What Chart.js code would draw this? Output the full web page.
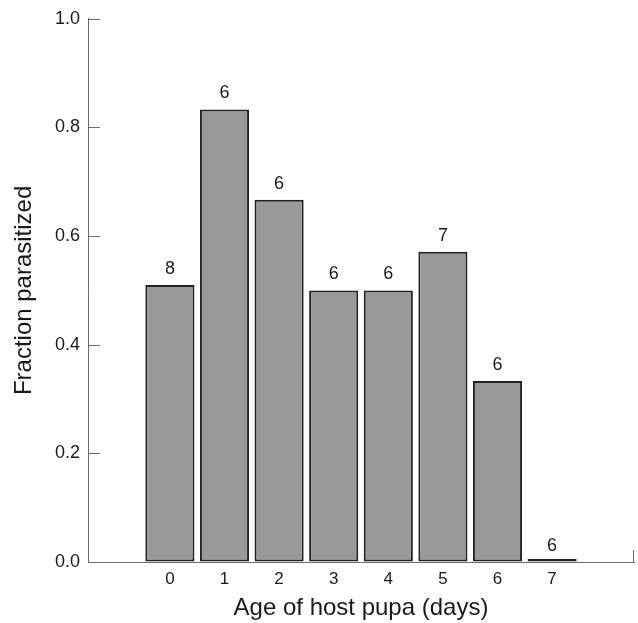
<!DOCTYPE html>
<html>
<head>
<meta charset="utf-8">
<script src="https://cdn.jsdelivr.net/npm/chart.js@4/dist/chart.umd.min.js"></script>
<style>
  html, body { margin: 0; padding: 0; background: #ffffff; }
  #wrap { width: 638px; height: 623px; position: relative; }
</style>
</head>
<body>
<div id="wrap"><canvas id="c" width="638" height="623"></canvas></div>
<script>
const ages = [0, 1, 2, 3, 4, 5, 6, 7];
const fractions = [0.51, 0.833, 0.667, 0.5, 0.5, 0.571, 0.333, 0.0];
const counts = [8, 6, 6, 6, 6, 7, 6, 6];
const yTickValues = [0, 0.2, 0.4, 0.6, 0.8, 1.0];

const AXIS_COLOR = '#6a6a6a';
const TEXT_COLOR = '#1a1a1a';
const FONT = '"Liberation Sans", Arial, Helvetica, sans-serif';

const decorations = {
  id: 'decorations',
  afterDatasetsDraw(chart) {
    const ctx = chart.ctx;
    const meta = chart.getDatasetMeta(0);
    const y = chart.scales.y;
    ctx.save();
    ctx.fillStyle = TEXT_COLOR;
    ctx.font = '18px ' + FONT;
    ctx.textAlign = 'center';
    ctx.textBaseline = 'middle';
    meta.data.forEach((bar, i) => {
      ctx.fillText(String(counts[i]), bar.x, y.getPixelForValue(fractions[i]) - 16);
    });
    ctx.restore();
  },
  afterDraw(chart) {
    const ctx = chart.ctx;
    const y = chart.scales.y;
    const area = chart.chartArea;
    ctx.save();
    ctx.strokeStyle = AXIS_COLOR;
    ctx.lineWidth = 1;
    ctx.beginPath();
    yTickValues.forEach(v => {
      const py = Math.round(y.getPixelForValue(v)) + 0.5;
      ctx.moveTo(area.left, py);
      ctx.lineTo(area.left + 12, py);
    });
    const rx = Math.round(area.right) - 0.5;
    ctx.moveTo(rx, area.bottom);
    ctx.lineTo(rx, area.bottom - 12);
    ctx.stroke();
    ctx.restore();
  }
};

new Chart(document.getElementById('c'), {
  type: 'bar',
  data: {
    datasets: [{
      data: ages.map((a, i) => ({ x: a, y: fractions[i] })),
      backgroundColor: '#999999',
      borderColor: '#222222',
      borderWidth: 2,
      borderSkipped: false,
      barPercentage: 0.9,
      categoryPercentage: 1.0,
      minBarLength: 3
    }]
  },
  options: {
    responsive: false,
    animation: false,
    events: [],
    layout: { padding: { top: 17, right: 4, left: 0, bottom: 0 } },
    plugins: { legend: { display: false }, tooltip: { enabled: false } },
    scales: {
      x: {
        type: 'linear',
        min: -1.5,
        max: 8.5,
        offset: false,
        afterBuildTicks(scale) { scale.ticks = ages.map(v => ({ value: v })); },
        afterFit(scale) { scale.height = 61; },
        grid: { display: true, drawOnChartArea: false, drawTicks: false },
        border: { display: true, color: AXIS_COLOR, width: 1 },
        ticks: {
          color: TEXT_COLOR,
          font: { family: FONT, size: 17 },
          padding: 7,
          maxRotation: 0,
          callback: v => String(v)
        },
        title: {
          display: true,
          text: 'Age of host pupa (days)',
          color: TEXT_COLOR,
          font: { family: FONT, size: 24 },
          padding: { top: 0, bottom: 0 }
        }
      },
      y: {
        min: 0,
        max: 1,
        afterBuildTicks(scale) { scale.ticks = yTickValues.map(v => ({ value: v })); },
        afterFit(scale) { scale.width = 88; },
        grid: { display: true, drawOnChartArea: false, drawTicks: false },
        border: { display: true, color: AXIS_COLOR, width: 1 },
        ticks: {
          color: TEXT_COLOR,
          font: { family: FONT, size: 18 },
          padding: 8,
          callback: v => Number(v).toFixed(1)
        },
        title: {
          display: true,
          text: 'Fraction parasitized',
          color: TEXT_COLOR,
          font: { family: FONT, size: 24 },
          padding: { top: 10, bottom: 0 }
        }
      }
    }
  },
  plugins: [decorations]
});
</script>
</body>
</html>
